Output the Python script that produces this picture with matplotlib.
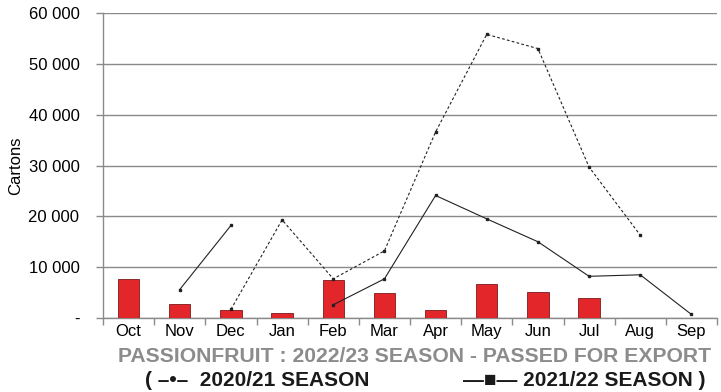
import matplotlib
matplotlib.use("Agg")
import matplotlib.pyplot as plt
import numpy as np

months = ["Oct", "Nov", "Dec", "Jan", "Feb", "Mar", "Apr", "May", "Jun", "Jul", "Aug", "Sep"]
season_2022_23 = [7600, 2700, 1500, 1000, 7500, 4900, 1500, 6700, 5100, 3900, 80, 50]
season_2020_21 = [np.nan, np.nan, 1700, 19300, 7700, 13200, 36600, 55800, 53000, 29700, 16300, np.nan]
season_2021_22 = [np.nan, 5600, 18200, np.nan, 2600, 7700, 24100, 19500, 15000, 8200, 8500, 700]
y_ticks = [0, 10000, 20000, 30000, 40000, 50000, 60000]
y_labels = ["-", "10 000", "20 000", "30 000", "40 000", "50 000", "60 000"]

plt.rcParams['font.family'] = ['Liberation Sans', 'DejaVu Sans']

fig = plt.figure(figsize=(7.21, 3.92), dpi=100)
ax = fig.add_axes([103/721, 1-318/392, 614/721, 305/392])

x = np.arange(len(months))
ax.bar(x, season_2022_23, width=0.42, color="#e3262a", edgecolor="#7a1a1a", linewidth=0.6, zorder=3)
ax.plot(x, season_2020_21, linestyle=(0, (2.5, 2)), color="#222222", linewidth=0.8,
        marker="s", markersize=1.8, zorder=4)
ax.plot(x, season_2021_22, linestyle="-", color="#222222", linewidth=0.8,
        marker="s", markersize=1.8, zorder=4)

ax.set_xlim(-0.5, len(months) - 0.5)
ax.set_ylim(0, 60000)
ax.set_yticks(y_ticks)
ax.set_yticklabels(y_labels, fontsize=12)
ax.yaxis.grid(True, color="#8a8a8a", linewidth=1.0, zorder=0)
ax.set_axisbelow(True)

ax.set_xticks(x)
ax.set_xticklabels(months, fontsize=12)
ax.set_xticks(np.arange(-0.5, len(months) - 0.4, 1), minor=True)
ax.tick_params(axis="x", which="major", length=0, pad=4)
ax.tick_params(axis="x", which="minor", length=5, color="#8a8a8a", width=1)
ax.tick_params(axis="y", length=5, color="#8a8a8a", width=1, pad=12)

for s in ["top", "right"]:
    ax.spines[s].set_visible(False)
for s in ["left", "bottom"]:
    ax.spines[s].set_color("#8a8a8a")
    ax.spines[s].set_linewidth(1.0)

ax.set_ylabel("Cartons", fontsize=12, labelpad=4)

fig.text(415/721, 1-356/392, "PASSIONFRUIT : 2022/23 SEASON - PASSED FOR EXPORT",
         ha="center", va="center", fontsize=15.2, fontweight="bold", color="#8c8c8c")
fig.text(145/721, 1-381/392, "( \u2013\u2022\u2013  2020/21 SEASON",
         ha="left", va="center", fontsize=15, fontweight="bold", color="#1a1a1a")
fig.text(463/721, 1-381/392, "\u2014\u25a0\u2014 2021/22 SEASON )",
         ha="left", va="center", fontsize=15, fontweight="bold", color="#1a1a1a",
         family=['Liberation Sans', 'DejaVu Sans'])

fig.savefig("out.png", dpi=100)
